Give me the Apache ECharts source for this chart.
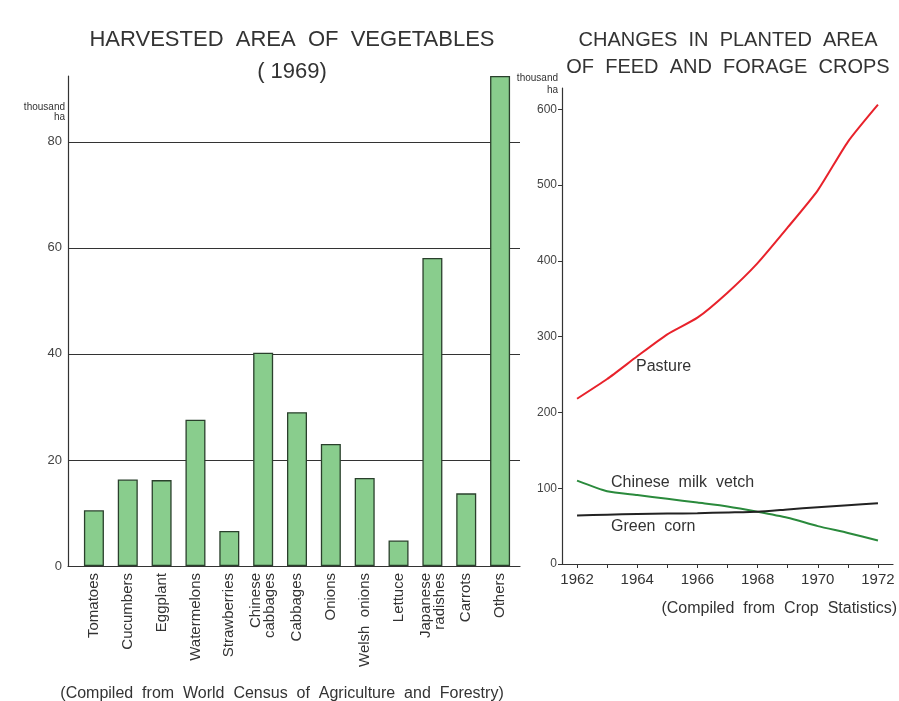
<!DOCTYPE html>
<html>
<head>
<meta charset="utf-8">
<script src="https://cdn.jsdelivr.net/npm/echarts@6/dist/echarts.min.js"></script>
<style>
html,body{margin:0;padding:0;background:#fff;}
#c{width:899px;height:701px;}
</style>
</head>
<body>
<div id="c"></div>
<script>
// ---- Left chart: harvested area of vegetables (1969), thousand ha
var vegCategories = ['Tomatoes','Cucumbers','Eggplant','Watermelons','Strawberries','Chinese\ncabbages','Cabbages','Onions','Welsh  onions','Lettuce','Japanese\nradishes','Carrots','Others'];
var vegValues = [10.5, 16.3, 16.2, 27.6, 6.6, 40.2, 29.0, 23.0, 16.6, 4.8, 58.1, 13.7, 92.4];
var vegTicks = [0, 20, 40, 60, 80];

// ---- Right chart: planted area of feed and forage crops, thousand ha
var years = ['1962','1963','1964','1965','1966','1967','1968','1969','1970','1971','1972'];
var pasture = [218, 244, 274, 303, 325, 358, 397, 444, 493, 557, 606];
var milkVetch = [110, 96, 91, 86, 81, 76, 69, 61, 50, 41, 31];
var greenCorn = [64, 65, 66, 66.5, 67, 68, 69, 72, 75, 77.5, 80];
var cropTicks = [0, 100, 200, 300, 400, 500, 600];

var FONT = '"Liberation Sans", Arial, sans-serif';
var chart = echarts.init(document.getElementById('c'));

function txt(text, x, y, size, align, color, lh) {
  return {type:'text', x:x, y:y, silent:true, style:{text:text, font: size + 'px ' + FONT, fill: color || '#333', align: align || 'center', verticalAlign:'middle', lineHeight: lh || size}};
}

var option = {
  backgroundColor: '#fff',
  animation: false,
  grid: [
    {left: 68, top: 76, width: 452, height: 490, containLabel: false},
    {left: 77, top: 76, width: 440, height: 490, containLabel: false},
    {left: 562, top: 88, width: 331, height: 476, containLabel: false}
  ],
  xAxis: [
    {gridIndex:0, type:'value', min:0, max:1, axisLine:{show:true, onZero:false, lineStyle:{color:'#333', width:1.2}}, axisTick:{show:false}, axisLabel:{show:false}, splitLine:{show:false}},
    {gridIndex:1, type:'category', data: vegCategories, axisLine:{show:false}, axisTick:{show:false},
      axisLabel:{interval:0, rotate:90, margin:7, fontSize:15, lineHeight:14, color:'#333', fontFamily: FONT}},
    {gridIndex:2, type:'category', data: years, boundaryGap:true,
      axisLine:{lineStyle:{color:'#333', width:1.2}},
      axisTick:{show:true, interval:0, alignWithLabel:true, length:4, lineStyle:{color:'#333'}},
      axisLabel:{interval:1, margin:8, fontSize:15, color:'#333', fontFamily: FONT}}
  ],
  yAxis: [
    {gridIndex:0, type:'value', min:0, max:92.4, interval:20,
      axisLine:{show:true, lineStyle:{color:'#333', width:1.2}}, axisTick:{show:false},
      axisLabel:{margin:6, fontSize:13, color:'#444', fontFamily: FONT, showMaxLabel:false,
        formatter:function(v){ return vegTicks.indexOf(v) >= 0 ? String(v) : ''; }},
      splitLine:{show:true, showMinLine:false, showMaxLine:false, lineStyle:{color:'#333', width:1}}},
    {gridIndex:1, type:'value', min:0, max:92.4, show:false, splitLine:{show:false}},
    {gridIndex:2, type:'value', min:0, max:628, interval:100,
      axisLine:{show:true, lineStyle:{color:'#333', width:1.2}},
      axisTick:{show:true, length:4, lineStyle:{color:'#333'}},
      axisLabel:{margin:5, fontSize:12, color:'#444', fontFamily: FONT, showMaxLabel:false,
        formatter:function(v){ return cropTicks.indexOf(v) >= 0 ? String(v) : ''; }},
      splitLine:{show:false}}
  ],
  series: [
    {type:'bar', xAxisIndex:1, yAxisIndex:1, data: vegValues, barWidth:20,
      itemStyle:{color:'#89cd8d', borderColor:'#2a402c', borderWidth:1.3}},
    {type:'line', name:'Pasture', xAxisIndex:2, yAxisIndex:2, data: pasture, smooth:0.2, showSymbol:false,
      lineStyle:{color:'#e8222b', width:2}},
    {type:'line', name:'Chinese milk vetch', xAxisIndex:2, yAxisIndex:2, data: milkVetch, smooth:0.2, showSymbol:false,
      lineStyle:{color:'#2a8a3c', width:2}},
    {type:'line', name:'Green corn', xAxisIndex:2, yAxisIndex:2, data: greenCorn, smooth:0.2, showSymbol:false,
      lineStyle:{color:'#222', width:2}}
  ],
  graphic: [
    txt('HARVESTED  AREA  OF  VEGETABLES', 292, 40, 22, 'center', '#333'),
    txt('( 1969)', 292, 72, 22, 'center', '#333'),
    txt('thousand', 65, 107, 10, 'right', '#333'),
    txt('ha', 65, 117, 10, 'right', '#333'),
    txt('CHANGES  IN  PLANTED  AREA', 728, 40, 20, 'center', '#333'),
    txt('OF  FEED  AND  FORAGE  CROPS', 728, 67, 20, 'center', '#333'),
    txt('thousand', 558, 78, 10, 'right', '#333'),
    txt('ha', 558, 90, 10, 'right', '#333'),
    txt('Pasture', 636, 367, 16, 'left', '#333'),
    txt('Chinese  milk  vetch', 611, 483, 16, 'left', '#333'),
    txt('Green  corn', 611, 527, 16, 'left', '#333'),
    txt('(Compiled  from  Crop  Statistics)', 897, 609, 16, 'right', '#333'),
    txt('(Compiled  from  World  Census  of  Agriculture  and  Forestry)', 282, 694, 16, 'center', '#333')
  ]
};
chart.setOption(option);
</script>
</body>
</html>
